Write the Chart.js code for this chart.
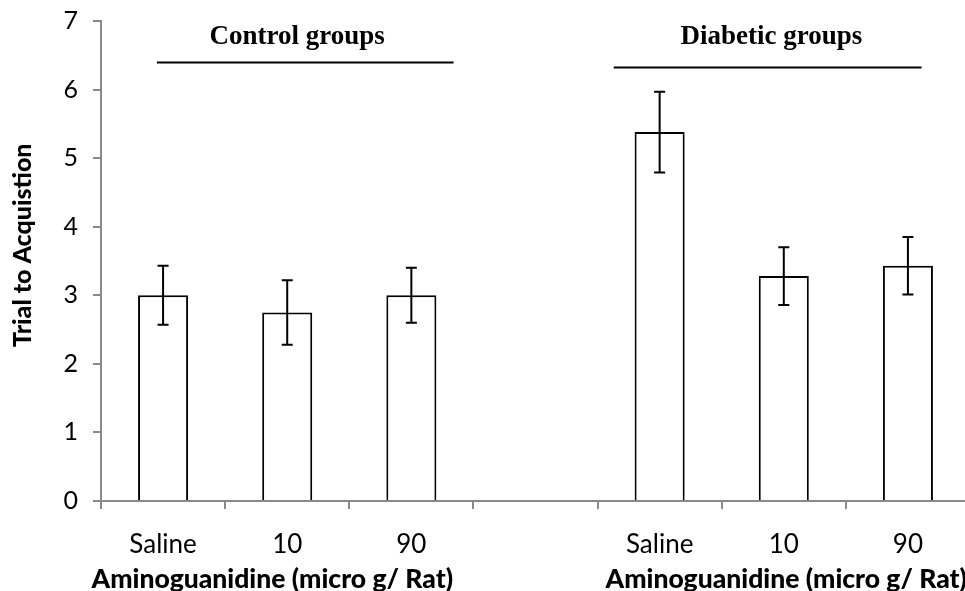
<!DOCTYPE html>
<html>
<head>
<meta charset="utf-8">
<script src="https://cdn.jsdelivr.net/npm/chart.js@4.4.1/dist/chart.umd.min.js"></script>
<style>
html,body{margin:0;padding:0;background:#fff;overflow:hidden;}
#wrap{width:975px;height:591px;}
</style>
</head>
<body>
<div id="wrap"><canvas id="c" width="975" height="591"></canvas></div>
<script>
// ---- data ----
const categories = ['Saline', '10', '90', '', 'Saline', '10', '90'];
const trialMeans = [3.0, 2.75, 3.0, null, 5.38, 3.28, 3.43];
const trialErrors = [0.43, 0.47, 0.40, null, 0.59, 0.42, 0.42];
const yTickValues = [0, 1, 2, 3, 4, 5, 6, 7];
const groupTitles = ['Control groups', 'Diabetic groups'];
const xAxisTitle = 'Aminoguanidine (micro g/ Rat)';
const yAxisTitle = 'Trial to Acquistion';

const SANS = 'Lato, "Open Sans", sans-serif';
const SERIF = '"Liberation Serif", "Times New Roman", serif';

// annotation placements in data units (category index / y value)
const groupAnno = [
  {text: groupTitles[0], cx: 1.08, ty: 6.77, x0: -0.05, x1: 2.34, ly: 6.40},
  {text: groupTitles[1], cx: 4.90, ty: 6.77, x0: 3.63, x1: 6.11, ly: 6.33}
];
const xTitleCenters = [0.88, 5.02];

const annoPlugin = {
  id: 'anno',
  afterDraw(chart) {
    const ctx = chart.ctx;
    const xs = chart.scales.x, ys = chart.scales.y;
    ctx.save();
    // error bars
    ctx.strokeStyle = '#000';
    ctx.lineWidth = 2;
    const meta = chart.getDatasetMeta(0);
    trialMeans.forEach((v, i) => {
      if (v === null) return;
      const e = trialErrors[i];
      const x = meta.data[i].x;
      const yt = ys.getPixelForValue(v + e), yb = ys.getPixelForValue(v - e);
      ctx.beginPath();
      ctx.moveTo(x, yt); ctx.lineTo(x, yb);
      ctx.moveTo(x - 5.5, yt); ctx.lineTo(x + 5.5, yt);
      ctx.moveTo(x - 5.5, yb); ctx.lineTo(x + 5.5, yb);
      ctx.stroke();
    });
    // group titles and lines
    ctx.fillStyle = '#000';
    ctx.font = 'bold 27px ' + SERIF;
    ctx.textAlign = 'center';
    ctx.textBaseline = 'middle';
    groupAnno.forEach(g => {
      ctx.fillText(g.text, xs.getPixelForValue(g.cx), ys.getPixelForValue(g.ty));
      const ly = Math.round(ys.getPixelForValue(g.ly)) + 0.5;
      ctx.beginPath();
      ctx.lineWidth = 2;
      ctx.moveTo(xs.getPixelForValue(g.x0), ly);
      ctx.lineTo(xs.getPixelForValue(g.x1), ly);
      ctx.stroke();
    });
    // x axis titles
    ctx.font = '900 26.5px ' + SANS;
    xTitleCenters.forEach(c => {
      ctx.fillText(xAxisTitle, xs.getPixelForValue(c), 579);
    });
    // y axis title
    ctx.translate(23, ys.getPixelForValue(3.73));
    ctx.rotate(-Math.PI / 2);
    ctx.font = '900 25px ' + SANS;
    ctx.fillText(yAxisTitle, 0, 0);
    ctx.restore();
  }
};

new Chart(document.getElementById('c'), {
  type: 'bar',
  data: {
    labels: categories,
    datasets: [{
      data: trialMeans,
      backgroundColor: '#ffffff',
      borderColor: '#000000',
      borderWidth: 2,
      borderSkipped: 'bottom',
      categoryPercentage: 1.0,
      barPercentage: 0.403
    }]
  },
  options: {
    responsive: false,
    animation: false,
    devicePixelRatio: 1,
    layout: {padding: {top: 21, right: 5, left: 0, bottom: 0}},
    plugins: {legend: {display: false}, tooltip: {enabled: false}},
    scales: {
      x: {
        offset: true,
        grid: {display: true, drawOnChartArea: false, offset: true, tickLength: 8, color: '#898989', lineWidth: 2},
        border: {display: true, color: '#898989', width: 2},
        ticks: {font: {family: SANS, size: 26}, color: '#000', padding: 20, maxRotation: 0, autoSkip: false},
        afterFit(s) { s.height = 90; s.paddingLeft = 0; s.paddingRight = 0; }
      },
      y: {
        min: 0, max: 7,
        afterBuildTicks(s) { s.ticks = yTickValues.map(v => ({value: v})); },
        grid: {display: true, drawOnChartArea: false, tickLength: 8, color: '#898989', lineWidth: 2},
        border: {display: true, color: '#898989', width: 2},
        ticks: {font: {family: SANS, size: 25}, color: '#000', padding: 15},
        afterFit(s) { s.width = 101; s.paddingTop = 0; s.paddingBottom = 0; }
      }
    }
  },
  plugins: [annoPlugin]
});
</script>
</body>
</html>
